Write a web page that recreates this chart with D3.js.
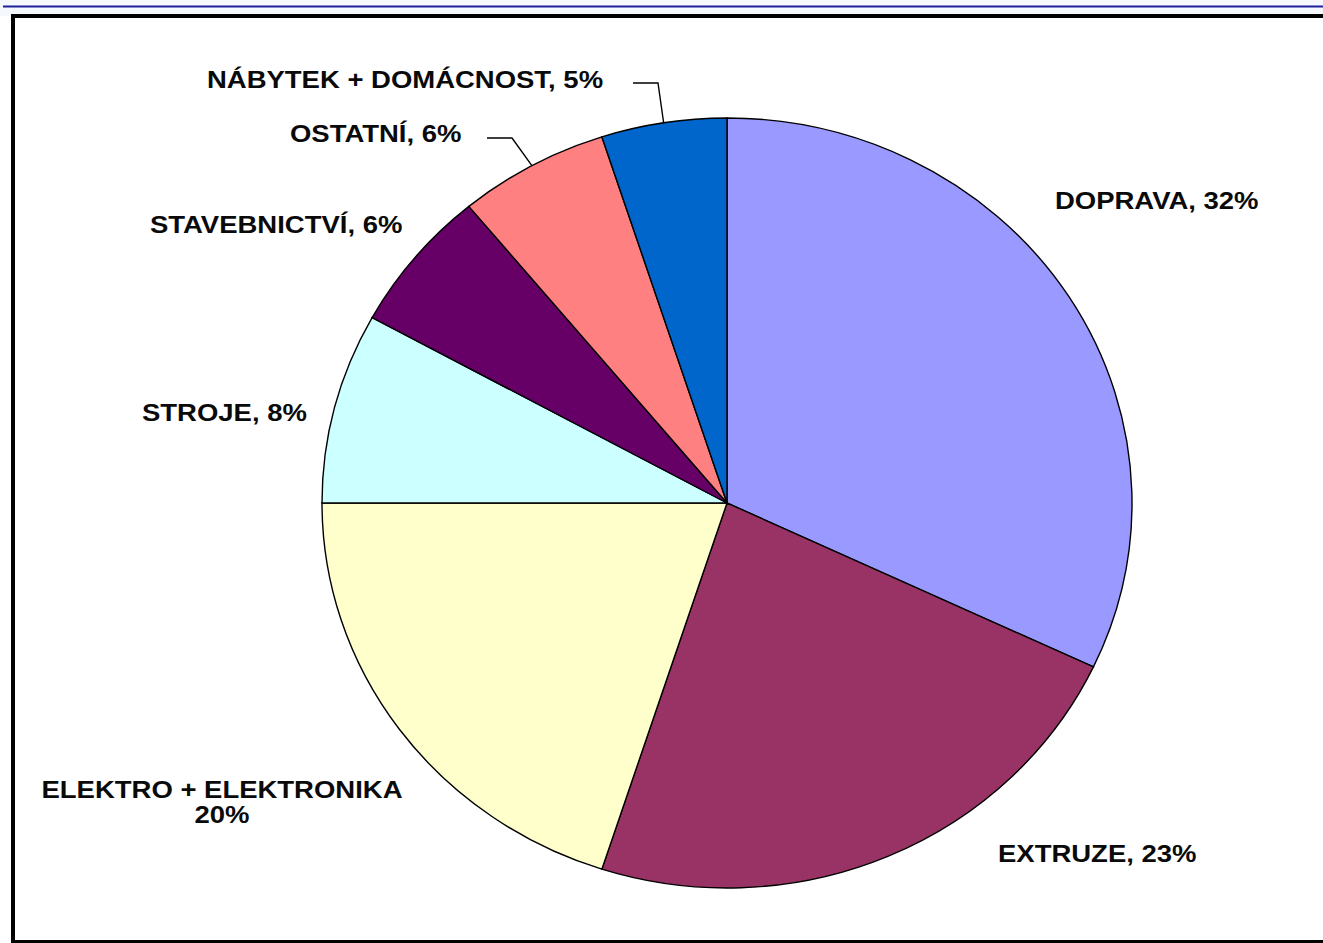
<!DOCTYPE html>
<html>
<head>
<meta charset="utf-8">
<script src="https://cdn.jsdelivr.net/npm/d3@7"></script>
<style>
  html, body { margin: 0; padding: 0; background: #ffffff; }
  svg { display: block; }
</style>
</head>
<body>
<svg id="chart" width="1323" height="943"></svg>
<script>
// ---- data ----
const categories = ["DOPRAVA", "EXTRUZE", "ELEKTRO + ELEKTRONIKA", "STROJE", "STAVEBNICTVÍ", "OSTATNÍ", "NÁBYTEK + DOMÁCNOST"];
const values = [32, 23, 20, 8, 6, 6, 5];
const colors = ["#9999FF", "#993366", "#FFFFCC", "#CCFFFF", "#660066", "#FF8080", "#0066CC"];

// ---- layout ----
const svg = d3.select("#chart");
const W = 1323, H = 943;
const cx = 727, cy = 503, ry = 385, rx = 405;
const sx = rx / ry;

// background strip and top blue line
svg.append("rect").attr("x", 0).attr("y", 0).attr("width", W).attr("height", 16).attr("fill", "#f5f8fd");
svg.append("rect").attr("x", 13).attr("y", 16).attr("width", W).attr("height", H).attr("fill", "#ffffff");
svg.append("line").attr("x1", 3).attr("x2", W).attr("y1", 6.5).attr("y2", 6.5)
  .attr("stroke", "#1f1f9e").attr("stroke-width", 2);
// frame
svg.append("rect").attr("x", 13).attr("y", 16).attr("width", W + 20).attr("height", 926)
  .attr("fill", "none").attr("stroke", "#000").attr("stroke-width", 4);

const data = categories.map((c, i) => ({ name: c, value: values[i], color: colors[i] }));
const pie = d3.pie().value(d => d.value).sort(null);
const arcs = pie(data);
const arc = d3.arc().innerRadius(0).outerRadius(ry);

const g = svg.append("g").attr("transform", `translate(${cx},${cy}) scale(${sx},1)`);
g.selectAll("path").data(arcs).join("path")
  .attr("d", arc)
  .attr("fill", d => d.data.color)
  .attr("stroke", "#000")
  .attr("stroke-width", 1.4)
  .attr("vector-effect", "non-scaling-stroke");

// label placement
const labelLayout = {
  "DOPRAVA": { x: 1055, y: 209, anchor: "start" },
  "EXTRUZE": { x: 998, y: 862, anchor: "start" },
  "ELEKTRO + ELEKTRONIKA": { x: 222, y: 798, anchor: "middle", split: true },
  "STROJE": { x: 142, y: 421, anchor: "start" },
  "STAVEBNICTVÍ": { x: 150, y: 233, anchor: "start" },
  "OSTATNÍ": { x: 290, y: 142, anchor: "start", elbow: [487, 512, 138] },
  "NÁBYTEK + DOMÁCNOST": { x: 207, y: 88, anchor: "start", elbow: [633, 658, 83] }
};

const fontSize = 23, scaleX = 1.195;
arcs.forEach(a => {
  const L = labelLayout[a.data.name];
  const t = svg.append("text")
    .attr("transform", `translate(${L.x},${L.y}) scale(${scaleX},1)`)
    .attr("text-anchor", L.anchor)
    .attr("font-family", "Liberation Sans, Arial, sans-serif")
    .attr("font-weight", "bold")
    .attr("font-size", fontSize)
    .attr("fill", "#0a0a0a");
  if (L.split) {
    t.append("tspan").attr("x", 0).attr("y", 0).text(a.data.name);
    t.append("tspan").attr("x", 0).attr("y", 25).text(a.data.value + "%");
  } else {
    t.text(`${a.data.name}, ${a.data.value}%`);
  }
  if (L.elbow) {
    const mid = (a.startAngle + a.endAngle) / 2;
    const ex = cx + rx * Math.sin(mid), ey = cy - ry * Math.cos(mid);
    svg.append("polyline")
      .attr("points", `${L.elbow[0]},${L.elbow[2]} ${L.elbow[1]},${L.elbow[2]} ${ex},${ey}`)
      .attr("fill", "none").attr("stroke", "#000").attr("stroke-width", 1.4);
  }
});
</script>
</body>
</html>
